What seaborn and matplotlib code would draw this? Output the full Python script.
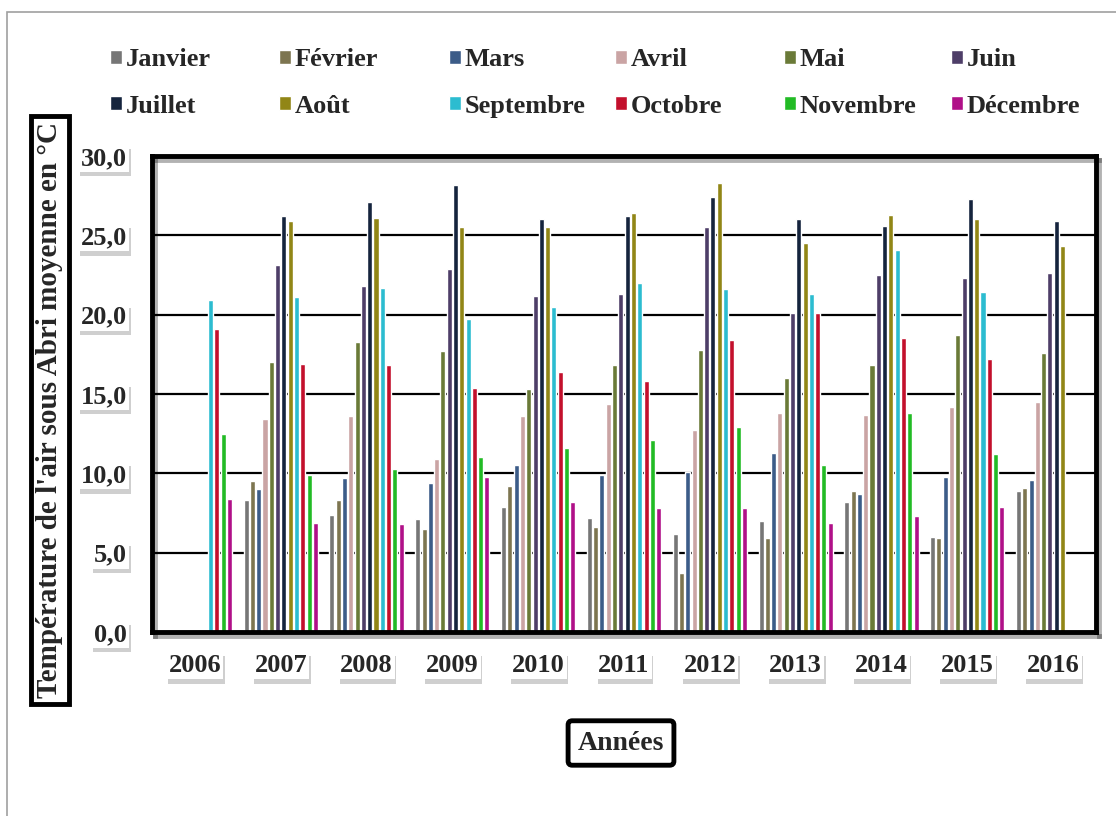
import numpy as np
import pandas as pd
import matplotlib.pyplot as plt
import matplotlib.patheffects as pe
from matplotlib.patches import Rectangle
import seaborn as sns

# Monthly mean air temperature (sous abri), degC
years = [2006, 2007, 2008, 2009, 2010, 2011, 2012, 2013, 2014, 2015, 2016]
months = ['Janvier', 'Février', 'Mars', 'Avril', 'Mai', 'Juin',
          'Juillet', 'Août', 'Septembre', 'Octobre', 'Novembre', 'Décembre']

nan = np.nan
janvier = [nan, 8.3, 7.4, 7.1, 7.9, 7.2, 6.2, 7.0, 8.2, 6.0, 8.9]
fevrier = [nan, 9.5, 8.3, 6.5, 9.2, 6.6, 3.7, 5.9, 8.9, 5.9, 9.1]
mars = [nan, 9.0, 9.7, 9.4, 10.5, 9.9, 10.1, 11.3, 8.7, 9.8, 9.6]
avril = [nan, 13.4, 13.6, 10.9, 13.6, 14.4, 12.7, 13.8, 13.7, 14.2, 14.5]
mai = [nan, 17.0, 18.3, 17.7, 15.3, 16.8, 17.8, 16.0, 16.8, 18.7, 17.6]
juin = [nan, 23.1, 21.8, 22.9, 21.2, 21.3, 25.5, 20.1, 22.5, 22.3, 22.6]
juillet = [nan, 26.2, 27.1, 28.2, 26.0, 26.2, 27.4, 26.0, 25.6, 27.3, 25.9]
aout = [nan, 25.9, 26.1, 25.5, 25.5, 26.4, 28.3, 24.5, 26.3, 26.0, 24.3]
septembre = [20.9, 21.1, 21.7, 19.7, 20.5, 22.0, 21.6, 21.3, 24.1, 21.4, nan]
octobre = [19.1, 16.9, 16.8, 15.4, 16.4, 15.8, 18.4, 20.1, 18.5, 17.2, nan]
novembre = [12.5, 9.9, 10.3, 11.0, 11.6, 12.1, 12.9, 10.5, 13.8, 11.2, nan]
decembre = [8.4, 6.9, 6.8, 9.8, 8.2, 7.8, 7.8, 6.9, 7.3, 7.9, nan]

colors = ['#767676', '#7d7550', '#3c5c88', '#caa4a4', '#6a7a38', '#4e3e68',
          '#15243d', '#918616', '#2cbcd0', '#c3102c', '#22bb25', '#b01088']

# long format for seaborn
series = [janvier, fevrier, mars, avril, mai, juin,
          juillet, aout, septembre, octobre, novembre, decembre]
rows = []
for m, vals in zip(months, series):
    for y, v in zip(years, vals):
        rows.append((str(y), m, v))
df = pd.DataFrame(rows, columns=['Année', 'Mois', 'Temp']).dropna()

sns.set_style('white')
plt.rcParams['font.family'] = ['Liberation Serif', 'DejaVu Serif']
plt.rcParams['font.weight'] = 'bold'

W, H = 1116, 816
fig = plt.figure(figsize=(W / 100, H / 100), dpi=100)
ax = fig.add_axes([152 / W, 1 - 632 / H, (1096 - 152) / W, (632 - 156) / H])

sns.barplot(data=df, x='Année', y='Temp', hue='Mois', hue_order=months,
            order=[str(y) for y in years], palette=colors, saturation=1,
            width=0.88, gap=0.2, errorbar=None, ax=ax)

ax.set_ylim(0, 30)
ax.set_yticks(range(0, 31, 5))
ax.set_yticklabels([f'{v:.1f}'.replace('.', ',') for v in range(0, 31, 5)])
ax.set_xlabel('')
ax.set_ylabel('')
ax.yaxis.grid(True, color='black', linewidth=1.6)
ax.set_axisbelow(True)
ax.tick_params(axis='y', length=0, pad=18, labelsize=19)
ax.tick_params(axis='x', length=0, pad=16, labelsize=19)

for s in ax.spines.values():
    s.set_visible(True)
    s.set_color('black')
    s.set_linewidth(3.5)
    s.set_path_effects([pe.SimpleLineShadow(offset=(2, -3), alpha=0.3), pe.Normal()])

# white label boxes with a soft shadow underneath
for lab in ax.get_xticklabels() + ax.get_yticklabels():
    lab.set_fontweight('bold')
    lab.set_bbox(dict(facecolor='white', edgecolor='none', pad=1.5))
    lab.get_bbox_patch().set_path_effects(
        [pe.withSimplePatchShadow(offset=(1, -3), shadow_rgbFace='#777777', alpha=0.35)])

# legend: one small legend per column so the columns are evenly spaced
handles, labels = ax.get_legend_handles_labels()
ax.get_legend().remove()
col_x = [110, 279, 449, 615, 784, 951]
for c, x in enumerate(col_x):
    fig.legend([handles[c], handles[c + 6]], [labels[c], labels[c + 6]],
               loc='upper left', bbox_to_anchor=(x / W, 1 - 48 / H),
               frameon=False, fontsize=19, handlelength=0.45, handleheight=0.45,
               handletextpad=0.15, labelspacing=0.9, borderpad=0, borderaxespad=0)

# axis titles in boxes
fig.text(50 / W, 1 - 410 / H, "Température de l'air sous Abri moyenne en °C",
         rotation=90, ha='center', va='center', fontsize=21, fontweight='bold',
         bbox=dict(boxstyle='square,pad=0.2', facecolor='white', edgecolor='black', linewidth=3.5))
fig.text(621 / W, 1 - 743 / H, 'Années', ha='center', va='center', fontsize=20,
         fontweight='bold',
         bbox=dict(boxstyle='round,pad=0.35,rounding_size=0.15', facecolor='white',
                   edgecolor='black', linewidth=3.5))

# light frame around the whole chart
fig.patches.append(Rectangle((7 / W, -0.05), 1.1, 1.05 - 12 / H, transform=fig.transFigure,
                             fill=False, edgecolor='#a0a0a0', linewidth=1.2))

fig.savefig('out.png', dpi=100)
